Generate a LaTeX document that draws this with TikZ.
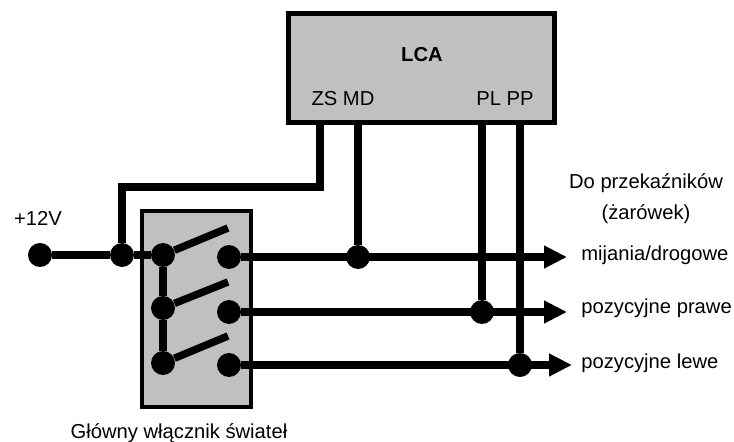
\documentclass[tikz,border=0pt]{standalone}
\usepackage{fontspec}
\setmainfont{Liberation Sans}
\usepackage{tikz}
\usetikzlibrary{arrows.meta}
\definecolor{boxgray}{RGB}{192,192,192}
\tikzset{
    box/.style={draw, fill=boxgray, line width=0.09cm, inner sep=0pt},
    wire/.style={line width=0.15cm},
    outwire/.style={wire, -{Triangle[length=0.46cm,width=0.43cm]}},
    dot/.style={circle, fill=black, inner sep=0pt, minimum size=0.48cm},
    txt/.style={font=\fontsize{11.5}{14}\selectfont, inner sep=0pt},
}

\begin{document}
\begin{tikzpicture}[x=0.02cm, y=-0.02cm]
        \useasboundingbox (0,0) rectangle (734,442);
        \node [box, minimum width=5.32cm, minimum height=2.18cm] (lca) at (421.5, 68) {};
        \node [box, minimum width=2.18cm, minimum height=3.92cm] (switch) at (196.5, 309) {};
        \node [txt, font=\fontsize{11.5}{14}\selectfont\bfseries] (lcaname) at (422, 55) {LCA};
        \node [txt] (zsmd) at (343, 99) {ZS MD};
        \node [txt] (plpp) at (505, 99) {PL PP};
        \node [txt] (plus) at (38, 218) {+12V};
        \node [txt] (relays) at (646, 183) {Do przekaźników};
        \node [txt] (bulbs) at (646, 214) {(żarówek)};
        \node [txt, anchor=west] (lowhigh) at (581, 255) {mijania/drogowe};
        \node [txt, anchor=west] (right) at (581, 308) {pozycyjne prawe};
        \node [txt, anchor=west] (left) at (581, 363) {pozycyjne lewe};
        \node [txt] (mainsw) at (179, 433) {Główny włącznik świateł};
        \node [dot] (supply) at (40, 255) {};
        \node [dot] (tap) at (122, 255) {};
        \node [dot] (in1) at (163, 255) {};
        \node [dot] (in2) at (163, 308) {};
        \node [dot] (in3) at (163, 363) {};
        \node [dot] (out1) at (229, 257) {};
        \node [dot] (out2) at (229, 312) {};
        \node [dot] (out3) at (229, 365) {};
        \node [dot] (jmd) at (358, 257) {};
        \node [dot] (jpl) at (482, 312) {};
        \node [dot] (jpp) at (520, 365) {};
        \coordinate (zs) at (320, 122);
        \coordinate (md) at (358, 122);
        \coordinate (pl) at (482, 122);
        \coordinate (pp) at (520, 122);
        \coordinate (corner) at (122, 187);
        \coordinate (blade1) at (228, 228);
        \coordinate (blade2) at (228, 282);
        \coordinate (blade3) at (228, 336);
        \coordinate (end1) at (567, 257);
        \coordinate (end2) at (567, 312);
        \coordinate (end3) at (572, 365);
        \draw [wire] (supply) -- (tap);
        \draw [wire] (tap) -- (in1);
        \draw [wire] (zs) |- (corner) -- (tap);
        \draw [wire] (md) -- (jmd);
        \draw [wire] (pl) -- (jpl);
        \draw [wire] (pp) -- (jpp);
        \draw [wire] (in1) -- (in2);
        \draw [wire] (in2) -- (in3);
        \draw [wire] (in1) -- (blade1);
        \draw [wire] (in2) -- (blade2);
        \draw [wire] (in3) -- (blade3);
        \draw [outwire] (out1) -- (end1);
        \draw [outwire] (out2) -- (end2);
        \draw [outwire] (out3) -- (end3);
    \end{tikzpicture}
\end{document}
